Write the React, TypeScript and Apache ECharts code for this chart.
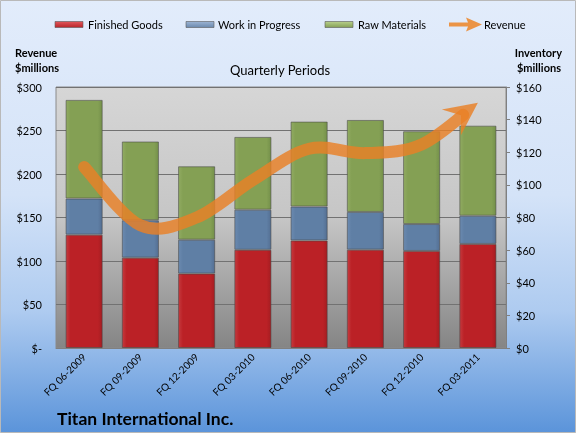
import React, { useEffect, useRef } from "react";
import * as echarts from "echarts";

const categories = ["FQ 06-2009", "FQ 09-2009", "FQ 12-2009", "FQ 03-2010", "FQ 06-2010", "FQ 09-2010", "FQ 12-2010", "FQ 03-2011"];
const finishedGoods = [69.5, 55.4, 45.6, 60.2, 65.9, 60.3, 59.5, 63.8];
const workInProgress = [22.1, 22.9, 20.8, 24.6, 20.8, 23.1, 16.5, 17.3];
const rawMaterials = [60.5, 48.3, 45.0, 44.6, 52.1, 56.4, 56.9, 55.2];
const revenue = [208, 141, 150, 193, 229, 224, 234, 282];

const seriesNames = ["Finished Goods", "Work in Progress", "Raw Materials", "Revenue"];
const revenueAxis = { min: 0, max: 300, interval: 50 };
const inventoryAxis = { min: 0, max: 160, interval: 20 };

type Pt = number[];
const lerp = (a: Pt, b: Pt, t: number): Pt => [a[0] + (b[0] - a[0]) * t, a[1] + (b[1] - a[1]) * t];
const bez = (p0: Pt, c1: Pt, c2: Pt, p1: Pt, t: number): Pt => {
  const a = lerp(p0, c1, t), b = lerp(c1, c2, t), c = lerp(c2, p1, t);
  const d = lerp(a, b, t), e = lerp(b, c, t);
  return lerp(d, e, t);
};

export default function App() {
  const ref = useRef<HTMLDivElement>(null);
  useEffect(() => {
    document.body.style.margin = "0";
    const chart = echarts.init(ref.current!, null, { renderer: "svg", width: 576, height: 433 });
    const font = "Lato, 'Liberation Sans', sans-serif";
    const G = echarts.graphic;
    const lineColor = "rgba(233,128,38,0.82)";

    const barStyle = (light: string, mid: string, dark: string) => ({
      color: new G.LinearGradient(0, 0, 1, 0, [
        { offset: 0, color: light },
        { offset: 0.12, color: mid },
        { offset: 0.88, color: mid },
        { offset: 1, color: dark },
      ]),
      borderColor: "rgba(70,70,70,0.55)",
      borderWidth: 1,
    });
    const red = barStyle("#c53a3e", "#bb2126", "#a51d21");
    const blue = barStyle("#6b8ab0", "#5f7fa5", "#546f93");
    const green = barStyle("#91ab62", "#84a054", "#74904a");

    const legendSwatch = (x: number, c1: string, c2: string) => ({
      type: "rect",
      shape: { x, y: 21.5, width: 28, height: 6 },
      style: {
        fill: new G.LinearGradient(0, 0, 0, 1, [
          { offset: 0, color: c1 },
          { offset: 1, color: c2 },
        ]),
        stroke: "rgba(90,90,90,0.6)",
        lineWidth: 1,
      },
    });
    const txt = (x: number, y: number, text: string, size: number, bold = false, align = "left") => ({
      type: "text",
      x,
      y,
      style: {
        text,
        fill: "#000",
        font: `${bold ? "bold " : ""}${size}px ${font}`,
        textAlign: align,
        textVerticalAlign: "middle",
      },
    });

    const renderRevenue = (params: any, api: any) => {
      if (params.dataIndex !== 0) return null;
      const pts: Pt[] = revenue.map((v, i) => api.coord([i, v]));
      const n = pts.length;
      const segs: Pt[][] = [];
      for (let i = 0; i < n - 1; i++) {
        const p0 = pts[i], p1 = pts[i + 1];
        const pm = pts[i - 1] || p0;
        const pn = pts[i + 2] || p1;
        const c1: Pt = [p0[0] + (p1[0] - pm[0]) / 6, p0[1] + (p1[1] - pm[1]) / 6];
        const c2: Pt = [p1[0] - (pn[0] - p0[0]) / 6, p1[1] - (pn[1] - p0[1]) / 6];
        segs.push([p0, c1, c2, p1]);
      }
      // arrowhead at final point
      const last = segs[segs.length - 1];
      const tip = last[3];
      let dx = tip[0] - last[2][0], dy = tip[1] - last[2][1];
      const len = Math.hypot(dx, dy);
      const ux = dx / len, uy = dy / len;
      const nx = -uy, ny = ux;
      const L = 33, W = 16, N = 21;
      const wa: Pt = [tip[0] - L * ux + W * nx, tip[1] - L * uy + W * ny];
      const wb: Pt = [tip[0] - L * ux - W * nx, tip[1] - L * uy - W * ny];
      const notch: Pt = [tip[0] - N * ux, tip[1] - N * uy];
      // truncate last segment at the notch
      let tCut = 1;
      for (let t = 1; t >= 0; t -= 0.005) {
        const p = bez(last[0], last[1], last[2], last[3], t);
        if (Math.hypot(p[0] - tip[0], p[1] - tip[1]) >= N - 2) { tCut = t; break; }
      }
      const a = lerp(last[0], last[1], tCut), b = lerp(last[1], last[2], tCut);
      const d = lerp(a, b, tCut);
      const e = bez(last[0], last[1], last[2], last[3], tCut);
      segs[segs.length - 1] = [last[0], a, d, e];

      let pathData = `M${segs[0][0][0]},${segs[0][0][1]}`;
      segs.forEach((s) => {
        pathData += ` C${s[1][0]},${s[1][1]} ${s[2][0]},${s[2][1]} ${s[3][0]},${s[3][1]}`;
      });
      return {
        type: "group",
        children: [
          {
            type: "path",
            shape: { pathData },
            style: { fill: "none", stroke: lineColor, lineWidth: 12, lineCap: "round", lineJoin: "round" },
          },
          {
            type: "polygon",
            shape: { points: [tip, wa, notch, wb] },
            style: { fill: lineColor },
          },
        ],
      };
    };

    const option: any = {
      animation: false,
      textStyle: { fontFamily: font },
      grid: {
        left: 56,
        right: 70,
        top: 87,
        bottom: 85,
        show: true,
        borderColor: "#8a8a8a",
        borderWidth: 1,
        backgroundColor: new G.LinearGradient(0, 0, 0, 1, [
          { offset: 0, color: "#d6d6d6" },
          { offset: 0.5, color: "#c6c6c6" },
          { offset: 1, color: "#858585" },
        ]),
      },
      xAxis: {
        type: "category",
        data: categories,
        axisLine: { show: true, lineStyle: { color: "#808080" } },
        axisTick: { show: false },
        axisLabel: { rotate: 45, fontSize: 10, color: "#000", margin: 7, fontFamily: font },
      },
      yAxis: [
        {
          type: "value",
          position: "left",
          ...revenueAxis,
          axisLine: { show: false },
          axisTick: { show: false },
          splitLine: { show: true, lineStyle: { color: "#727272", width: 1 } },
          axisLabel: {
            fontSize: 11,
            color: "#000",
            margin: 14,
            fontFamily: font,
            formatter: (v: number) => (v === 0 ? "$-" : "$" + v),
          },
        },
        {
          type: "value",
          position: "right",
          ...inventoryAxis,
          axisLine: { show: true, lineStyle: { color: "#808080" } },
          axisTick: { show: true, length: 4, lineStyle: { color: "#808080" } },
          splitLine: { show: false },
          axisLabel: {
            fontSize: 11,
            color: "#000",
            margin: 10,
            fontFamily: font,
            formatter: (v: number) => "$" + v,
          },
        },
      ],
      series: [
        { name: seriesNames[0], type: "bar", stack: "inv", yAxisIndex: 1, data: finishedGoods, barCategoryGap: "34%", itemStyle: red },
        { name: seriesNames[1], type: "bar", stack: "inv", yAxisIndex: 1, data: workInProgress, itemStyle: blue },
        { name: seriesNames[2], type: "bar", stack: "inv", yAxisIndex: 1, data: rawMaterials, itemStyle: green },
        {
          name: seriesNames[3],
          type: "custom",
          coordinateSystem: "cartesian2d",
          xAxisIndex: 0,
          yAxisIndex: 0,
          data: revenue.map((v, i) => [i, v]),
          renderItem: renderRevenue,
          z: 5,
          silent: true,
        },
      ],
      graphic: [
        {
          type: "rect",
          z: -100,
          shape: { x: 0.5, y: 0.5, width: 575, height: 432 },
          style: {
            fill: new G.LinearGradient(0, 0, 0, 1, [
              { offset: 0, color: "#e2ecfb" },
              { offset: 0.45, color: "#d4e3f8" },
              { offset: 0.72, color: "#aecbf0" },
              { offset: 1, color: "#5b94da" },
            ]),
            stroke: "#b9b9b9",
            lineWidth: 1,
          },
        },
        legendSwatch(55, "#e2575b", "#b8252a"),
        txt(88, 24.5, seriesNames[0], 11),
        legendSwatch(186, "#9cb4d4", "#6b89ad"),
        txt(218, 24.5, seriesNames[1], 11),
        legendSwatch(325, "#b8d08c", "#85a056"),
        txt(358, 24.5, seriesNames[2], 11),
        {
          type: "polygon",
          shape: {
            points: [
              [449, 22.5], [468, 22.5], [466, 17.5], [482, 24.5], [466, 31.5], [468, 26.5], [449, 26.5],
            ],
          },
          style: { fill: "#eb9446" },
        },
        txt(484, 24.5, seriesNames[3], 11),
        txt(15, 52.5, "Revenue", 11, true),
        txt(15, 67, "$millions", 11, true),
        txt(562, 52.5, "Inventory", 11, true, "right"),
        txt(561, 67, "$millions", 11, true, "right"),
        txt(280, 70, "Quarterly Periods", 13, false, "center"),
        txt(57, 418, "Titan International Inc.", 17.5, true),
      ],
    };
    chart.setOption(option);
    return () => chart.dispose();
  }, []);
  return <div ref={ref} style={{ position: "fixed", left: 0, top: 0, width: 576, height: 433 }} />;
}
